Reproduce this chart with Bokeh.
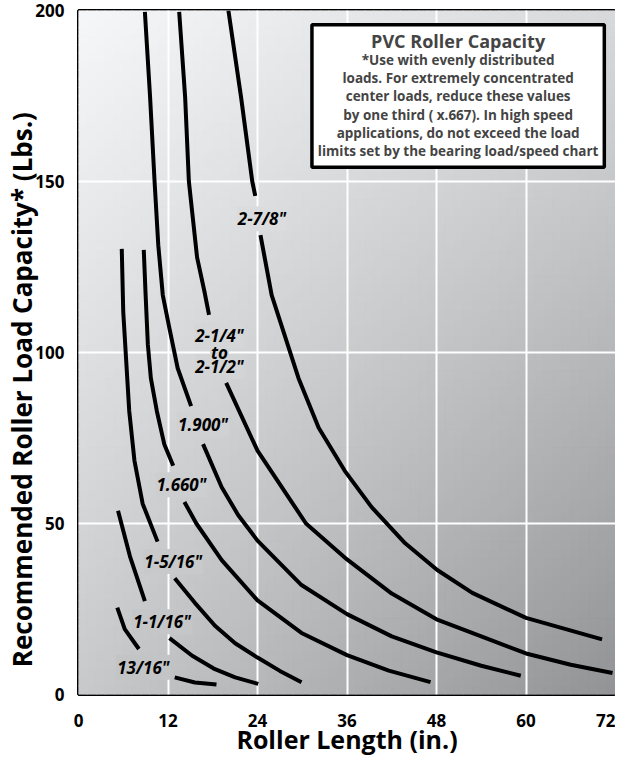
import numpy as np
from bokeh.plotting import figure
from bokeh.models import Range1d, ColumnDataSource, BoxAnnotation, Label, FixedTicker
from bokeh.core.properties import value
from bokeh.embed import file_html
from bokeh.resources import INLINE

nan = float("nan")

# ---------------- data ----------------
x_ticks = [0, 12, 24, 36, 48, 60, 72]
y_ticks = [0, 50, 100, 150, 200]

# 13/16"
c1_x = [5.2, 6.2, 8.1, nan, 12.9, 15.6, 18.5]
c1_y = [25.4, 19.1, 13.3, nan, 5.0, 3.5, 2.9]
# 1-1/16"
c2_x = [5.3, 6.9, 8.9, nan, 12.2, 15.2, 18.3, 21.0, 24.1]
c2_y = [53.7, 40.4, 27.3, nan, 16.5, 11.4, 7.4, 5.0, 3.1]
# 1-5/16"
c3_x = [5.8, 6.0, 6.4, 6.8, 7.5, 8.6, 10.6, nan, 12.9, 15.6, 18.3, 21.0, 24.0, 27.0, 29.9]
c3_y = [130.3, 111.9, 97.4, 82.9, 68.4, 55.8, 44.7, nan, 34.0, 26.8, 20.1, 15.0, 10.8, 6.9, 3.6]
# 1.660"
c4_x = [8.75, 9.0, 9.3, 9.7, 10.5, 11.5, 12.7, nan, 14.2, 15.8, 19.2, 24.0, 29.9, 36.0, 41.6, 47.2]
c4_y = [130.0, 116.8, 102.3, 92.5, 82.9, 73.2, 66.9, nan, 56.3, 50.0, 39.3, 27.5, 18.0, 11.5, 7.0, 3.6]
# 1.900"
c5_x = [8.9, 9.6, 10.2, 10.7, 11.3, 12.2, 13.3, 15.1, nan, 16.7, 19.2, 21.4, 24.0, 29.9, 36.0, 42.0, 48.0, 54.0, 59.3]
c5_y = [199.6, 174.6, 150.0, 131.3, 116.8, 107.0, 95.4, 84.3, nan, 73.2, 60.6, 52.5, 45.0, 32.0, 23.5, 17.0, 12.3, 8.4, 5.5]
# 2-1/4" to 2-1/2"
c6_x = [13.5, 14.3, 14.8, 15.9, 16.9, 17.5, nan, 19.8, 24.0, 30.5, 36.0, 42.0, 48.0, 54.0, 60.0, 66.0, 71.6]
c6_y = [199.6, 174.6, 150.0, 127.8, 117.7, 111.0, nan, 91.1, 71.3, 50.0, 39.5, 29.5, 22.0, 17.0, 12.0, 8.7, 6.3]
# 2-7/8"
c7_x = [20.1, 21.8, 23.3, 23.7, nan, 24.4, 25.9, 29.5, 32.2, 35.7, 39.3, 43.8, 48.1, 52.8, 60.0, 70.2]
c7_y = [200.0, 174.6, 150.0, 145.8, nan, 134.3, 116.8, 92.5, 78.0, 65.4, 54.8, 44.2, 36.4, 29.7, 22.4, 16.1]

curve_xs = [c1_x, c2_x, c3_x, c4_x, c5_x, c6_x, c7_x]
curve_ys = [c1_y, c2_y, c3_y, c4_y, c5_y, c6_y, c7_y]

label_text = ['13/16"', '1-1/16"', '1-5/16"', '1.660"', '1.900"', '2-1/4"', 'to', '2-1/2"', '2-7/8"']
label_x = [8.7, 11.2, 12.7, 13.8, 16.7, 18.9, 18.9, 18.9, 24.6]
label_y = [8.0, 21.3, 38.9, 61.3, 79.0, 104.9, 100.1, 95.9, 139.1]

x_title = "Roller Length (in.)"
y_title = "Recommended Roller Load Capacity* (Lbs.)"

note_title = "PVC Roller Capacity"
note_lines = [
    "*Use with evenly distributed",
    "loads. For extremely concentrated",
    "center loads, reduce these values",
    "by one third ( x.667). In high speed",
    "applications, do not exceed the load",
    "limits set by the bearing load/speed chart",
]

# ---------------- layout / style ----------------
X0, X1, Y0, Y1 = 0, 72, 0, 200
FONT = "Open Sans"

p = figure(width=615, height=758, output_backend="svg", toolbar_location=None,
           x_range=Range1d(X0, X1), y_range=Range1d(Y0, Y1),
           min_border_left=78, min_border_right=0, min_border_top=10, min_border_bottom=40)
p.background_fill_color = "#c4c5c7"
p.border_fill_color = "white"
p.outline_line_color = "black"
p.outline_line_width = 3


def shade(fx, fy_top):
    # background gradient: fx 0..1 left->right, fy_top 0..1 top->bottom
    return 246 - 30 * fx - 46 * fy_top - 24 * fx * fy_top


def hexcol(s):
    s = int(round(float(s)))
    return "#%02x%02x%02x" % (s, min(s + 1, 255), min(s + 3, 255))


# gradient background built from small cells (style only)
NX, NY = 60, 80
ex = np.linspace(X0, X1, NX + 1)
ey = np.linspace(Y0, Y1, NY + 1)
L, B = np.meshgrid(ex[:-1], ey[:-1])
R, T = np.meshgrid(ex[1:], ey[1:])
cxs = (L + R) / 2
cys = (B + T) / 2
cols = [hexcol(shade((a - X0) / (X1 - X0), 1 - (b - Y0) / (Y1 - Y0)))
        for a, b in zip(cxs.ravel(), cys.ravel())]
bg_src = ColumnDataSource(dict(left=L.ravel(), right=R.ravel(), bottom=B.ravel(),
                               top=T.ravel(), c=cols))
p.quad(left="left", right="right", bottom="bottom", top="top", source=bg_src,
       fill_color="c", line_color="c", line_width=1, level="image")

# grid
p.xgrid.ticker = FixedTicker(ticks=x_ticks[1:-1])
p.ygrid.ticker = FixedTicker(ticks=y_ticks[1:-1])
for g in (p.xgrid, p.ygrid):
    g.grid_line_color = "white"
    g.grid_line_width = 2
    g.level = "underlay"

# curves
for xs, ys in zip(curve_xs, curve_ys):
    p.line(xs, ys, line_color="black", line_width=4, line_cap="butt", line_join="round")

# curve labels: first a halo pass matching the background, then the texts
lab_src = ColumnDataSource(dict(
    x=label_x, y=label_y, text=label_text,
    bg=[hexcol(shade((a - X0) / (X1 - X0), 1 - (b - Y0) / (Y1 - Y0))) for a, b in zip(label_x, label_y)]))
p.text(x="x", y="y", text="text", source=lab_src, text_font=value(FONT),
       text_font_style="bold italic", text_font_size="17px", text_alpha=0,
       text_align="center", text_baseline="middle",
       background_fill_color="bg", padding=1)
p.text(x="x", y="y", text="text", source=lab_src, text_font=value(FONT),
       text_font_style="bold italic", text_font_size="17px", text_color="black",
       text_align="center", text_baseline="middle")

# note box
BOX_L, BOX_R, BOX_T, BOX_B = 31.3, 70.5, 195.8, 154.2
box = BoxAnnotation(left=BOX_L, right=BOX_R, top=BOX_T, bottom=BOX_B,
                    fill_color="white", fill_alpha=1, line_color="black",
                    line_alpha=1, line_width=3.5)
p.add_layout(box)
cx = (BOX_L + BOX_R) / 2
p.add_layout(Label(x=cx, y=191.2, text=note_title, text_font=FONT, text_font_style="bold",
                   text_font_size="18px", text_align="center", text_baseline="middle"))
line_ys = [185.4, 180.2, 175.0, 169.4, 164.1, 158.8]
for t, yy in zip(note_lines, line_ys):
    p.add_layout(Label(x=cx, y=yy, text=t, text_font=FONT, text_font_style="bold",
                       text_font_size="13.5px", text_align="center", text_baseline="middle"))

# axes
p.xaxis.ticker = FixedTicker(ticks=x_ticks)
p.yaxis.ticker = FixedTicker(ticks=y_ticks)
for ax in (p.xaxis[0], p.yaxis[0]):
    ax.axis_line_color = None
    ax.major_tick_line_color = None
    ax.minor_tick_line_color = None
    ax.major_label_text_font = FONT
    ax.major_label_text_font_style = "bold"
    ax.major_label_text_font_size = "17px"
    ax.major_label_text_color = "black"
    ax.axis_label_text_font = FONT
    ax.axis_label_text_font_style = "bold"
    ax.axis_label_text_color = "black"
p.xaxis.axis_label = x_title
p.xaxis.axis_label_text_font_size = "25px"
p.xaxis.major_label_standoff = 13
p.xaxis.axis_label_standoff = -8
# trailing spaces nudge the centred vertical title downward, as in the original
p.yaxis.axis_label = y_title + " " * 11
p.yaxis.axis_label_text_font_size = "26px"
p.yaxis.major_label_standoff = 8
p.yaxis.axis_label_standoff = -8

open("out.html", "w").write(file_html(p, INLINE))
